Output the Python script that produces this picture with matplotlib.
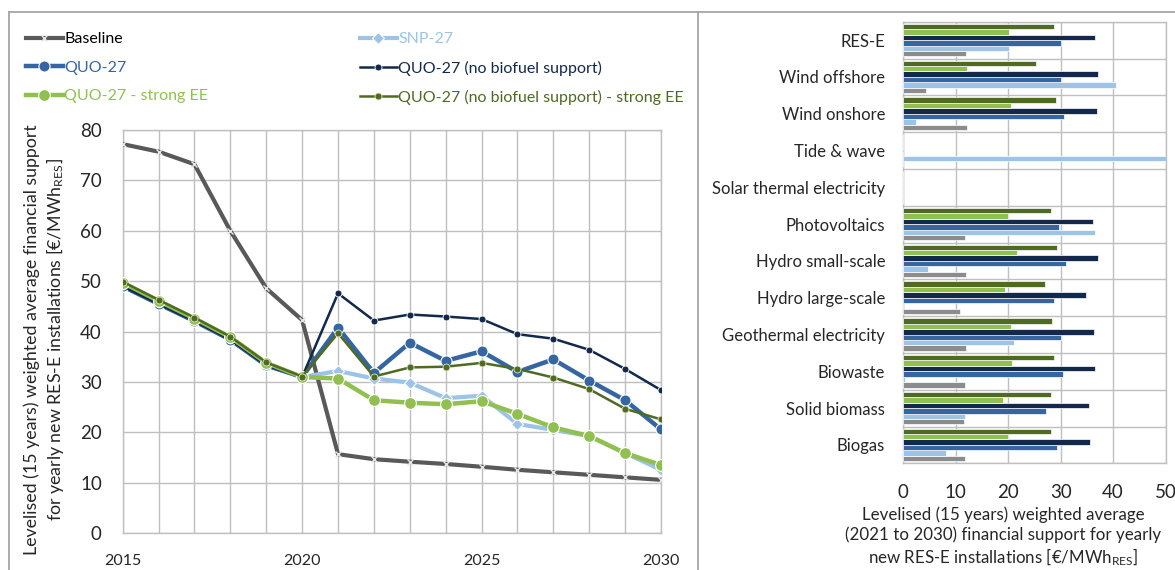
import matplotlib
matplotlib.use("Agg")
import matplotlib.pyplot as plt
from matplotlib.lines import Line2D
import numpy as np

plt.rcParams['font.family'] = ['Lato', 'DejaVu Sans']
plt.rcParams['mathtext.fontset'] = 'custom'
plt.rcParams['mathtext.rm'] = 'Lato'
plt.rcParams['mathtext.it'] = 'Lato:italic'
plt.rcParams['mathtext.bf'] = 'Lato:bold'

# ---------------- data: yearly support 2015-2030 ----------------
years = list(range(2015, 2031))
baseline = [77.2, 75.7, 73.2, 60.0, 48.6, 42.3, 15.7, 14.7, 14.2, 13.75, 13.2, 12.6, 12.1, 11.6, 11.1, 10.6]
snp27 = [49.0, 45.5, 42.1, 38.4, 33.3, 31.0, 32.2, 30.7, 29.9, 26.8, 27.3, 21.7, 20.5, 19.3, 15.9, 12.6]
quo27 = [49.0, 45.5, 42.1, 38.4, 33.3, 31.0, 40.8, 31.8, 37.8, 34.2, 36.1, 32.0, 34.5, 30.3, 26.4, 20.6]
quo27_nobio = [49.0, 45.5, 42.1, 38.4, 33.3, 31.0, 47.6, 42.2, 43.4, 43.0, 42.5, 39.5, 38.6, 36.4, 32.6, 28.4]
quo27_ee = [49.7, 46.1, 42.6, 38.9, 33.8, 31.0, 30.7, 26.4, 25.9, 25.6, 26.2, 23.7, 21.0, 19.3, 15.9, 13.55]
quo27_nobio_ee = [49.9, 46.3, 42.8, 39.0, 33.9, 31.1, 39.7, 31.1, 32.9, 33.05, 33.8, 32.6, 30.9, 28.6, 24.7, 22.6]

series_names = ["Baseline", "SNP-27", "QUO-27", "QUO-27 (no biofuel support)",
                "QUO-27 - strong EE", "QUO-27 (no biofuel support) - strong EE"]

# ---------------- data: technology averages 2021-2030 ----------------
technologies = ["RES-E", "Wind offshore", "Wind onshore", "Tide & wave",
                "Solar thermal electricity", "Photovoltaics", "Hydro small-scale",
                "Hydro large-scale", "Geothermal electricity", "Biowaste",
                "Solid biomass", "Biogas"]
tech_baseline = [11.9, 4.3, 12.1, 0, 0, 11.8, 11.9, 10.9, 11.9, 11.8, 11.5, 11.8]
tech_snp27 = [20.2, 40.6, 2.5, 60.0, 0, 36.6, 4.7, 0, 21.1, 0.3, 11.8, 8.1]
tech_quo27 = [30.0, 30.0, 30.7, 0, 0, 29.7, 31.0, 28.8, 30.0, 30.4, 27.2, 29.4]
tech_quo27_nobio = [36.5, 37.2, 37.0, 0, 0, 36.1, 37.2, 34.9, 36.3, 36.6, 35.4, 35.6]
tech_quo27_ee = [20.2, 12.1, 20.5, 0, 0, 20.0, 21.7, 19.4, 20.6, 20.7, 19.0, 20.0]
tech_quo27_nobio_ee = [28.8, 25.3, 29.1, 0, 0, 28.2, 29.4, 27.1, 28.4, 28.8, 28.2, 28.1]

# ---------------- styling ----------------
C_BASE = "#595959"
C_SNP = "#9DC3E6"
C_QUO = "#3566A2"
C_NAVY = "#13294B"
C_GREEN = "#92C050"
C_OLIVE = "#4F6A23"
C_BAR_GRAY = "#8C8C8C"
GRID = "#BFBFBF"
TXT = "#262626"

W, H = 1175, 570
fig = plt.figure(figsize=(W / 100, H / 100), dpi=100)


def fx(px):
    return px / W


def fy(py):
    return 1 - py / H


# ---------------- left panel: time series ----------------
ax = fig.add_axes([fx(122.7), fy(533.3), fx(661) - fx(122.7), fy(130) - fy(533.3)])
line_specs = [
    (baseline, dict(color=C_BASE, lw=3.0, marker='x', ms=5, mec='#E6E6E6', mew=1.0)),
    (snp27, dict(color=C_SNP, lw=3.0, marker='D', ms=6, mfc=C_SNP, mec='white', mew=0.8)),
    (quo27, dict(color=C_QUO, lw=3.2, marker='o', ms=8, mfc=C_QUO, mec='white', mew=0.8)),
    (quo27_nobio, dict(color=C_NAVY, lw=1.8, marker='o', ms=5, mfc=C_NAVY, mec='white', mew=0.6)),
    (quo27_ee, dict(color=C_GREEN, lw=3.2, marker='o', ms=8.5, mfc=C_GREEN, mec='white', mew=0.8)),
    (quo27_nobio_ee, dict(color=C_OLIVE, lw=1.8, marker='o', ms=5, mfc=C_OLIVE, mec='#DDE8C8', mew=0.6)),
]
handles = []
for (vals, kw), name in zip(line_specs, series_names):
    h, = ax.plot(years, vals, label=name, zorder=3, **kw)
    handles.append(h)

ax.set_xlim(2015, 2030)
ax.set_ylim(0, 80)
ax.set_xticks([2015, 2020, 2025, 2030])
ax.set_xticks(years, minor=True)
ax.set_yticks(range(0, 81, 10))
ax.grid(True, which='both', color=GRID, lw=1.0, zorder=0)
ax.set_axisbelow(True)
for s in ax.spines.values():
    s.set_color(GRID)
    s.set_linewidth(1.0)
ax.tick_params(axis='both', which='both', length=0, colors=TXT)
ax.tick_params(axis='y', labelsize=13.5, pad=15)
ax.tick_params(axis='x', labelsize=11.5, pad=15)

fig.text(fx(45), fy(340),
         "Levelised (15 years) weighted average financial support\n"
         r"for yearly new RES-E installations [€/MWh$_{\mathrm{RES}}$]",
         rotation=90, ha='center', va='center', fontsize=12.8, color=TXT,
         linespacing=1.25)

# legend in two columns
leg_colors = ["black", C_SNP, C_QUO, C_NAVY, C_GREEN, C_OLIVE]
col_a = [0, 2, 4]
col_b = [1, 3, 5]
for idx, xpos in ((col_a, 26), (col_b, 360)):
    lg = fig.legend([handles[i] for i in idx], [series_names[i] for i in idx],
                    loc='upper left', bbox_to_anchor=(fx(xpos), fy(32)),
                    frameon=False, fontsize=11.5, handlelength=2.3,
                    handletextpad=0.1, labelspacing=0.9, numpoints=1,
                    borderaxespad=0, borderpad=0)
    for t, i in zip(lg.get_texts(), idx):
        t.set_color(leg_colors[i])

# ---------------- right panel: technology bars ----------------
bx = fig.add_axes([fx(903.3), fy(463.3), fx(1165.5) - fx(903.3), fy(21.7) - fy(463.3)])
bar_series = [tech_baseline, tech_snp27, tech_quo27, tech_quo27_nobio,
              tech_quo27_ee, tech_quo27_nobio_ee]
bar_colors = [C_BAR_GRAY, C_SNP, C_QUO, C_NAVY, C_GREEN, C_OLIVE]
pos = np.arange(len(technologies))
step = 0.147
for j, (vals, col) in enumerate(zip(bar_series, bar_colors)):
    bx.barh(pos + (2.5 - j) * step, vals, height=step, color=col,
            edgecolor='white', linewidth=0.5, zorder=3)

bx.set_xlim(0, 50)
bx.set_ylim(len(technologies) - 0.5, -0.5)
bx.set_xticks(range(0, 51, 10))
bx.set_yticks(pos)
bx.set_yticklabels(technologies)
bx.set_yticks(np.arange(-0.5, len(technologies), 1.0), minor=True)
bx.grid(True, axis='x', which='major', color=GRID, lw=1.0, zorder=0)
bx.grid(True, axis='y', which='minor', color=GRID, lw=1.0, zorder=0)
bx.set_axisbelow(True)
for s in bx.spines.values():
    s.set_color(GRID)
    s.set_linewidth(1.0)
bx.tick_params(axis='both', which='both', length=0, colors=TXT)
bx.tick_params(axis='y', labelsize=12, pad=13)
bx.tick_params(axis='x', labelsize=13.5, pad=15)
fig.text(fx(1003), fy(506),
         "Levelised (15 years) weighted average\n"
         "(2021 to 2030) financial support for yearly\n"
         r"new RES-E installations [€/MWh$_{\mathrm{RES}}$]",
         ha='center', va='top', multialignment='center',
         fontsize=12.2, color=TXT, linespacing=1.25)

# ---------------- panel frames ----------------
FRAME = "#A6A6A6"
for (x0, y0, x1, y1) in [(9, 12, 698, 12), (9, 12, 9, 570), (698, 12, 698, 570),
                         (698, 12, 1175, 12)]:
    fig.add_artist(Line2D([fx(x0), fx(x1)], [fy(y0), fy(y1)], color=FRAME, lw=1.3))

fig.savefig("out.png", dpi=100)
